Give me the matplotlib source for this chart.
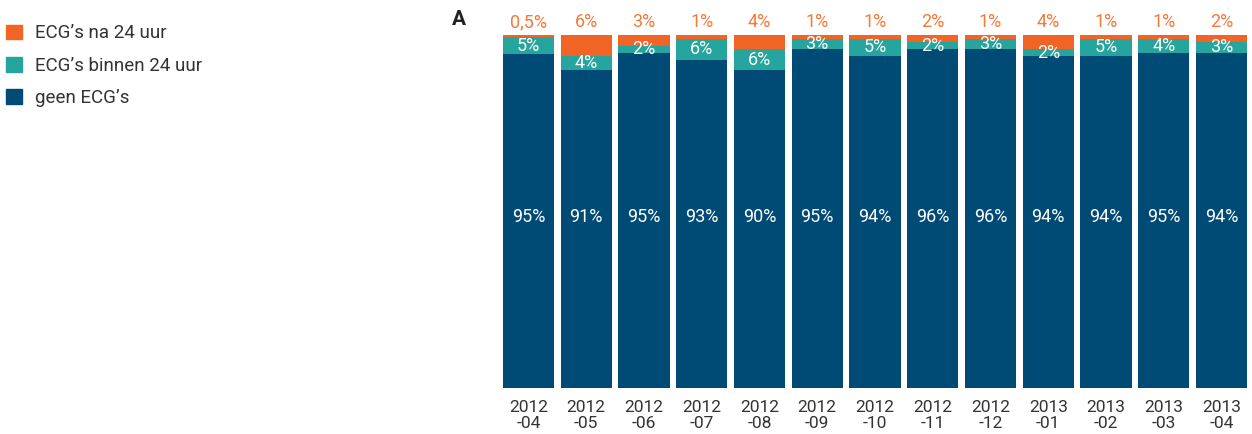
import matplotlib
matplotlib.use("Agg")
import matplotlib.pyplot as plt
from matplotlib.patches import Patch
import numpy as np

plt.rcParams['font.family'] = ['Roboto', 'DejaVu Sans']

months = ["2012\n-04", "2012\n-05", "2012\n-06", "2012\n-07", "2012\n-08", "2012\n-09",
          "2012\n-10", "2012\n-11", "2012\n-12", "2013\n-01", "2013\n-02", "2013\n-03", "2013\n-04"]
geen = [95, 91, 95, 93, 90, 95, 94, 96, 96, 94, 94, 95, 94]
binnen = [5, 4, 2, 6, 6, 3, 5, 2, 3, 2, 5, 4, 3]
na = [0.5, 6, 3, 1, 4, 1, 1, 2, 1, 4, 1, 1, 2]
series_names = ["ECG’s na 24 uur", "ECG’s binnen 24 uur", "geen ECG’s"]

c_na = "#f26425"
c_binnen = "#25a59d"
c_geen = "#004a76"
c_na_text = "#f37a3a"
txt = "#333333"

def fmt(v):
    s = f"{v:g}".replace(".", ",")
    return s + "%"

geen_a = np.array(geen, float)
binnen_a = np.array(binnen, float)
na_a = np.array(na, float)
tot = geen_a + binnen_a + na_a
g = geen_a / tot * 100
b = binnen_a / tot * 100
n = na_a / tot * 100

fig = plt.figure(figsize=(12.52, 4.34), dpi=100)
ax = fig.add_axes([499.6 / 1252, 46 / 434, 750.8 / 1252, 353 / 434])
x = np.arange(len(months))
w = 0.885
ax.bar(x, g, width=w, color=c_geen, linewidth=0)
ax.bar(x, b, width=w, bottom=g, color=c_binnen, linewidth=0)
ax.bar(x, n, width=w, bottom=g + b, color=c_na, linewidth=0)

fs = 13
for i in range(len(months)):
    ax.text(x[i], 48.5, fmt(geen[i]), ha='center', va='center', color='white', fontsize=fs)
    ax.text(x[i], g[i] + b[i] / 2, fmt(binnen[i]), ha='center', va='center', color='white', fontsize=fs)
    ax.text(x[i], 103.7, fmt(na[i]), ha='center', va='center', color=c_na_text, fontsize=fs, clip_on=False)

ax.set_xlim(-0.5, len(months) - 0.5)
ax.set_ylim(0, 100)
ax.set_xticks(x)
ax.set_xticklabels(months, fontsize=12.5, color=txt, linespacing=1.0)
ax.tick_params(axis='x', length=0, pad=9)
ax.set_yticks([])
for s in ax.spines.values():
    s.set_visible(False)

fig.text(459 / 1252, 1 - 19.5 / 434, "A", ha='center', va='center', fontsize=15,
         fontweight='bold', color='#222222')

handles = [Patch(color=c_na), Patch(color=c_binnen), Patch(color=c_geen)]
fig.legend(handles, series_names, loc='upper left', bbox_to_anchor=(6 / 1252, 1 - 24.5 / 434),
           frameon=False, fontsize=13.5, handlelength=0.85, handleheight=0.85,
           handletextpad=0.7, labelspacing=0.76, borderpad=0, borderaxespad=0,
           labelcolor=txt)

fig.savefig("out.png", dpi=100)
